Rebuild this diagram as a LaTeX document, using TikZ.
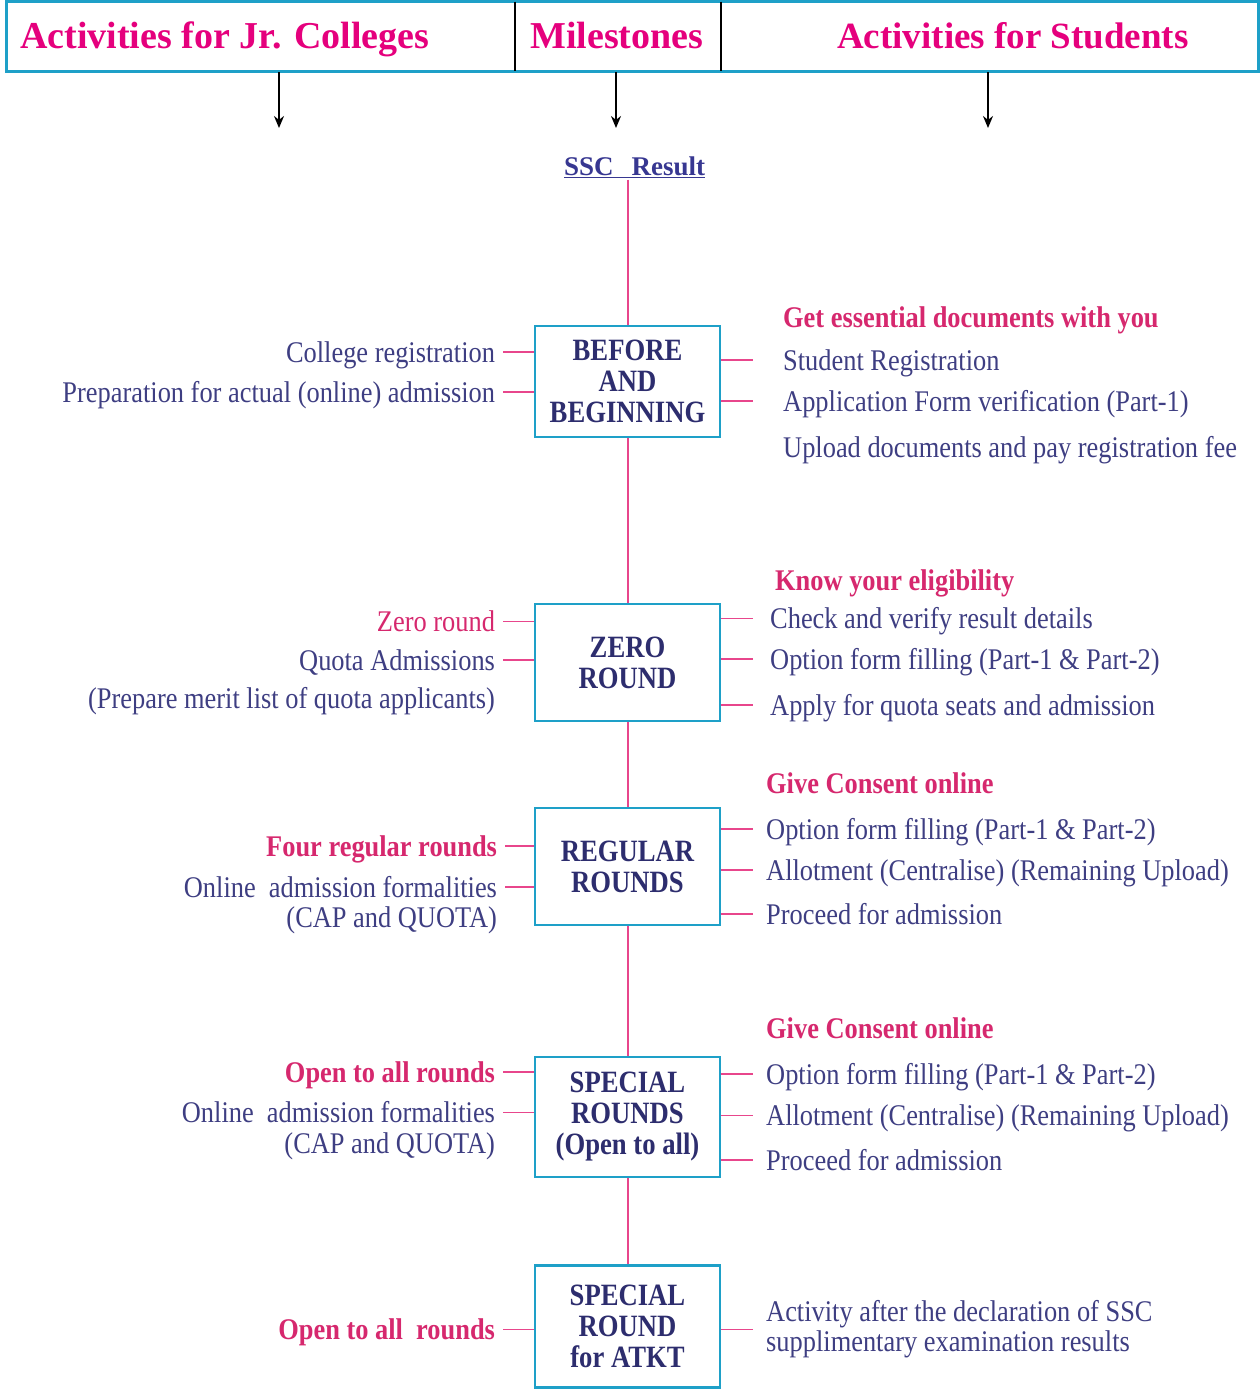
\documentclass[tikz,border=0pt]{standalone}
\usepackage{fontspec}
\setmainfont{Liberation Serif}
\newfontfamily\condfont[FakeStretch=0.88]{Liberation Serif}
\newfontfamily\boxfnt[FakeStretch=0.86]{Liberation Serif}
\usetikzlibrary{arrows.meta}
\definecolor{headpink}{RGB}{229,0,125}
\definecolor{subpink}{RGB}{214,40,110}
\definecolor{txtblue}{RGB}{62,62,130}
\definecolor{boxtxt}{RGB}{45,45,110}
\definecolor{sscblue}{RGB}{55,55,145}
\definecolor{cyanb}{RGB}{30,160,200}
\definecolor{linepink}{RGB}{232,70,140}
\tikzset{
  headtxt/.style={font=\bfseries\fontsize{38}{38}\selectfont, text=headpink, anchor=base west, inner sep=0},
  stage/.style={draw=cyanb, line width=2.5pt, fill=white, minimum width=185pt, inner sep=0,
     align=center, text=boxtxt, font=\boxfnt\bfseries\fontsize{31}{31}\selectfont},
  ltxt/.style={anchor=east, inner sep=0, outer xsep=8pt, text height=20pt, text depth=0pt,
     text=txtblue, font=\condfont\fontsize{30}{30}\selectfont},
  rtxt/.style={anchor=west, inner sep=0, text height=20pt, text depth=0pt,
     text=txtblue, font=\condfont\fontsize{30}{30}\selectfont},
  pinkb/.style={text=subpink, font=\condfont\bfseries\fontsize{30}{30}\selectfont},
  pinkr/.style={text=subpink},
  tick/.style={draw=linepink, line width=2pt},
  thintick/.style={draw=linepink, line width=1pt},
  vline/.style={draw=linepink, line width=2pt},
  downarrow/.style={draw=black, line width=1.6pt, -{Stealth[length=12pt,width=10pt]}}
}
\begin{document}
\begin{tikzpicture}[x=1pt,y=-1pt]
\useasboundingbox (0,0) rectangle (1260,1390);
% header
\draw[cyanb, line width=3pt] (6,1.5) rectangle (1258,71);
\draw[black, line width=2.5pt] (515,1.5) -- (515,71);
\draw[black, line width=2.5pt] (721,1.5) -- (721,71);
\node[headtxt] (h1) at (20,48) {Activities for Jr. Colleges};
\node[headtxt] (h2) at (530,48) {Milestones};
\node[headtxt, font=\bfseries\fontsize{37}{37}\selectfont] (h3) at (837,48) {Activities for Students};
\coordinate (a1s) at (279,72); \coordinate (a1e) at (279,128);
\coordinate (a2s) at (616,72); \coordinate (a2e) at (616,128);
\coordinate (a3s) at (988,72); \coordinate (a3e) at (988,128);
\draw[downarrow] (a1s) -- (a1e);
\draw[downarrow] (a2s) -- (a2e);
\draw[downarrow] (a3s) -- (a3e);
% SSC result
\node[anchor=base west, inner sep=2pt, text=sscblue, font=\bfseries\fontsize{27}{27}\selectfont] (ssc) at (562,175) {\underline{SSC\hspace{18pt}Result}};
% stage boxes
\node[stage, minimum height=111pt] (b1) at (627.5,381.5) {\raisebox{-2pt}{\parbox{180pt}{\centering BEFORE\\AND\\BEGINNING}}};
\node[stage, minimum height=117pt] (b2) at (627.5,662.5) {ZERO\\ROUND};
\node[stage, minimum height=117pt] (b3) at (627.5,866.5) {REGULAR\\ROUNDS};
\node[stage, minimum height=120pt] (b4) at (627.5,1117) {SPECIAL\\ROUNDS\\(Open to all)};
\node[stage, minimum height=122pt] (b5) at (627.5,1326.5) {SPECIAL\\ROUND\\for ATKT};
% vertical line
\draw[vline] (b1.north |- ssc.south) -- (b1.north);
\draw[vline] (b1.south) -- (b2.north);
\draw[vline] (b2.south) -- (b3.north);
\draw[vline] (b3.south) -- (b4.north);
\draw[vline] (b4.south) -- (b5.north);
% ---- box 1
\node[ltxt] (l11) at (503,352) {College registration};
\node[ltxt] (l12) at (503,392) {Preparation for actual (online) admission};
\draw[tick] (l11.east) -- (b1.west |- l11.east);
\draw[tick] (l12.east) -- (b1.west |- l12.east);
\node[rtxt, pinkb] (r10) at (783,317) {Get essential documents with you};
\node[rtxt] (r11) at (783,360) {Student Registration};
\node[rtxt] (r12) at (783,401) {Application Form verification (Part-1)};
\node[rtxt] (r13) at (783,447) {Upload documents and pay registration fee};
\draw[tick] (b1.east |- r11.west) -- +(32,0);
\draw[tick] (b1.east |- r12.west) -- +(32,0);
% ---- box 2
\node[ltxt, pinkr] (l21) at (503,621) {Zero round};
\node[ltxt] (l22) at (503,660) {Quota Admissions};
\node[ltxt] (l23) at (503,698) {(Prepare merit list of quota applicants)};
\draw[thintick] (l21.east) -- (b2.west |- l21.east);
\draw[tick] (l22.east) -- (b2.west |- l22.east);
\node[rtxt, pinkb] (r20) at (775,580) {Know your eligibility};
\node[rtxt] (r21) at (770,618) {Check and verify result details};
\node[rtxt] (r22) at (770,659) {Option form filling (Part-1 \& Part-2)};
\node[rtxt] (r23) at (770,705) {Apply for quota seats and admission};
\draw[thintick] (b2.east |- r21.west) -- +(32,0);
\draw[tick] (b2.east |- r22.west) -- +(32,0);
\draw[tick] (b2.east |- r23.west) -- +(32,0);
% ---- box 3
\node[ltxt, pinkb] (l31) at (505,846) {Four regular rounds};
\node[ltxt] (l32) at (505,887) {Online\ \ admission formalities};
\node[ltxt] (l33) at (505,917) {(CAP and QUOTA)};
\draw[tick] (l31.east) -- (b3.west |- l31.east);
\draw[tick] (l32.east) -- (b3.west |- l32.east);
\node[rtxt, pinkb] (r30) at (766,783) {Give Consent online};
\node[rtxt] (r31) at (766,829) {Option form filling (Part-1 \& Part-2)};
\node[rtxt] (r32) at (766,870) {Allotment (Centralise) (Remaining Upload)};
\node[rtxt] (r33) at (766,914) {Proceed for admission};
\draw[tick] (b3.east |- r31.west) -- +(32,0);
\draw[tick] (b3.east |- r32.west) -- +(32,0);
\draw[tick] (b3.east |- r33.west) -- +(32,0);
% ---- box 4
\node[ltxt, pinkb] (l41) at (503,1072) {Open to all rounds};
\node[ltxt] (l42) at (503,1112) {Online\ \ admission formalities};
\node[ltxt] (l43) at (503,1143) {(CAP and QUOTA)};
\draw[tick] (l41.east) -- (b4.west |- l41.east);
\draw[thintick] (l42.east) -- (b4.west |- l42.east);
\node[rtxt, pinkb] (r40) at (766,1028) {Give Consent online};
\node[rtxt] (r41) at (766,1074) {Option form filling (Part-1 \& Part-2)};
\node[rtxt] (r42) at (766,1115) {Allotment (Centralise) (Remaining Upload)};
\node[rtxt] (r43) at (766,1160) {Proceed for admission};
\draw[tick] (b4.east |- r41.west) -- +(32,0);
\draw[thintick] (b4.east |- r42.west) -- +(32,0);
\draw[tick] (b4.east |- r43.west) -- +(32,0);
% ---- box 5
\node[ltxt, pinkb] (l51) at (503,1329) {Open to all\ \ rounds};
\draw[thintick] (l51.east) -- (b5.west |- l51.east);
\node[anchor=west, inner sep=0, align=left, text=txtblue, font=\condfont\fontsize{30}{30}\selectfont] (r51) at (766,1329) {Activity after the declaration of SSC\\supplimentary examination results};
\draw[thintick] (b5.east |- r51.west) -- +(32,0);
\end{tikzpicture}
\end{document}
